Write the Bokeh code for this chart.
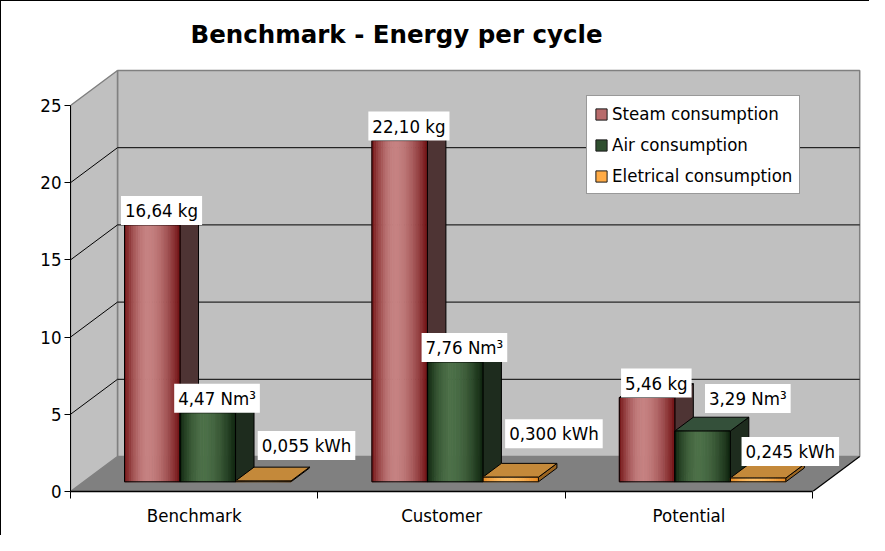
from bokeh.plotting import figure
from bokeh.models import Range1d, LinearAxis, FixedTicker, Legend, LegendItem, ColumnDataSource
from bokeh.core.properties import value
from bokeh.embed import file_html
from bokeh.resources import INLINE

# ---------------- data ----------------
title = "Benchmark - Energy per cycle"
categories = ["Benchmark", "Customer", "Potential"]
series_names = ["Steam consumption", "Air consumption", "Eletrical consumption"]
steam = [16.64, 22.10, 5.46]
air = [4.47, 7.76, 3.29]
electrical = [0.055, 0.300, 0.245]
units = ["kg", "Nm³", "kWh"]
decimals = [2, 2, 3]
y_ticks = [0, 5, 10, 15, 20, 25]

# label nudges in px (right, up) for labels moved aside, keyed (series, category)
label_nudge = {(2, 0): (34, 21), (2, 1): (34, 29), (2, 2): (23, 12), (1, 2): (36, 18)}

FONT = "DejaVu Sans Condensed, DejaVu Sans"
FS = "18.5px"

# ---------------- geometry (oblique 3D projection) ----------------
W, H = 869, 535
FRAME_L = 69
FRAME_B = 490
PX_X = 247.4
PX_Y = 15.44
x_end = (W - FRAME_L) / PX_X
y_end = FRAME_B / PX_Y
DX = 47 / PX_X
DY = 35 / PX_Y
F0 = 0.277
BX0 = F0 * DX + 41 / PX_X
BW = 55.5 / PX_X
BDX = 18.5 / PX_X
BDY = 13.8 / PX_Y
BASE = F0 * DY
NCAT = len(categories)
VMAX = y_ticks[-1]

p = figure(width=W, height=H, output_backend="svg", toolbar_location=None,
           x_range=Range1d(0, x_end), y_range=Range1d(0, y_end),
           x_axis_type=None, y_axis_type=None,
           min_border_left=FRAME_L, min_border_right=0, min_border_top=0,
           min_border_bottom=H - FRAME_B)
p.outline_line_color = None
p.background_fill_color = "white"
p.border_fill_color = "white"
p.styles = {"border-left": "1px solid #000000", "border-top": "1px solid #000000"}

# walls and floor
p.patch([DX, NCAT + DX, NCAT + DX, DX], [DY, DY, VMAX + DY, VMAX + DY],
        fill_color="#c0c0c0", line_color="#808080", line_width=1.5)
p.patch([0, DX, DX, 0], [0, DY, VMAX + DY, VMAX],
        fill_color="#c0c0c0", line_color="#808080", line_width=1.5)
p.patch([0, NCAT, NCAT + DX, DX], [0, 0, DY, DY],
        fill_color="#808080", line_color=None)
p.line([NCAT, NCAT + DX], [0, DY], line_color="#000000", line_width=1.2)

gx, gy = [], []
for v in y_ticks[1:-1]:
    gx.append([0, DX, NCAT + DX]); gy.append([v, v + DY, v + DY])
p.multi_line(gx, gy, line_color="#000000", line_width=1)

# ---------------- bars ----------------
def mix(a, b, s):
    return "#%02x%02x%02x" % tuple(int(round(a[i] + (b[i] - a[i]) * s)) for i in range(3))

def profile(t, peak=0.42):
    d = (peak - t) / peak if t < peak else (t - peak) / (1 - peak)
    return max(0.0, 1 - d ** 1.8)

styles = [
    dict(dark=(112, 16, 18), light=(198, 130, 130), side="#4e3434", top="#9a5050", leg="#b86b6b"),
    dict(dark=(14, 36, 14), light=(76, 112, 72), side="#1e2c1e", top="#34503a", leg="#2f4f2f"),
    dict(dark=(235, 140, 35), light=(255, 190, 100), side="#9a6420", top="#c4893a", leg="#ffab45"),
]
values = [steam, air, electrical]

sides = dict(xs=[], ys=[], c=[])
tops = dict(xs=[], ys=[], c=[])
strips = dict(left=[], right=[], bottom=[], top=[], c=[])
fronts = dict(left=[], right=[], bottom=[], top=[])
labs = dict(x=[], y=[], text=[], xo=[], yo=[])
NS = 24
for ci in range(NCAT):
    for si in range(len(values)):
        v = values[si][ci]
        st = styles[si]
        xl = ci + BX0 + si * BW
        xr = xl + BW
        yb = BASE
        yt = BASE + v
        sides["xs"].append([xr, xr + BDX, xr + BDX, xr])
        sides["ys"].append([yb, yb + BDY, yt + BDY, yt])
        sides["c"].append(st["side"])
        tops["xs"].append([xl, xr, xr + BDX, xl + BDX])
        tops["ys"].append([yt, yt, yt + BDY, yt + BDY])
        tops["c"].append(st["top"])
        for k in range(NS):
            a = xl + BW * k / NS
            b = xl + BW * (k + 1) / NS
            strips["left"].append(a); strips["right"].append(b)
            strips["bottom"].append(yb); strips["top"].append(yt)
            strips["c"].append(mix(st["dark"], st["light"], profile((k + 0.5) / NS)))
        fronts["left"].append(xl); fronts["right"].append(xr)
        fronts["bottom"].append(yb); fronts["top"].append(yt)
        nx, ny = label_nudge.get((si, ci), (0, 0))
        labs["x"].append(xl + BW / 2 + BDX / 2)
        labs["y"].append(yt)
        labs["text"].append(f"{v:.{decimals[si]}f}".replace(".", ",") + " " + units[si])
        labs["xo"].append(nx)
        labs["yo"].append(0 - ny)

p.patches("xs", "ys", source=ColumnDataSource(sides), fill_color="c", line_color="#000000", line_width=1)
p.patches("xs", "ys", source=ColumnDataSource(tops), fill_color="c", line_color="#000000", line_width=1)
p.quad(left="left", right="right", bottom="bottom", top="top", source=ColumnDataSource(strips),
       fill_color="c", line_color="c", line_width=0.8)
p.quad(left="left", right="right", bottom="bottom", top="top", source=ColumnDataSource(fronts),
       fill_color=None, line_color="#000000", line_width=1)

# data labels
p.text(x="x", y="y", text="text", source=ColumnDataSource(labs), x_offset="xo", y_offset="yo",
       anchor="bottom_center", text_font=value(FONT), text_font_size=FS, text_color="#000000",
       background_fill_color="white", padding=4)

# title
p.text(x=[(395 - FRAME_L) / PX_X], y=[(FRAME_B - 32.5) / PX_Y], text=[title],
       text_font=value("DejaVu Sans"), text_font_style="bold", text_font_size="24.5px",
       text_align="center", text_baseline="middle", text_color="#000000")

# ---------------- axes ----------------
yax = LinearAxis(ticker=FixedTicker(ticks=y_ticks, minor_ticks=[]), bounds=(0, VMAX))
yax.major_tick_out = 6
yax.major_tick_in = 0
yax.minor_tick_out = 0
yax.minor_tick_in = 0
yax.axis_line_color = "#000000"
yax.major_tick_line_color = "#000000"
yax.major_label_text_font = FONT
yax.major_label_text_font_size = FS
yax.major_label_text_color = "#000000"
yax.major_label_standoff = 3
p.add_layout(yax, "left")

xax = LinearAxis(ticker=FixedTicker(ticks=[i + 0.5 for i in range(NCAT)],
                                    minor_ticks=list(range(NCAT + 1))),
                 bounds=(0, NCAT))
xax.major_label_overrides = {i + 0.5: c for i, c in enumerate(categories)}
xax.major_tick_out = 0
xax.major_tick_in = 0
xax.minor_tick_out = 7
xax.minor_tick_in = 0
xax.axis_line_color = "#000000"
xax.axis_line_width = 1.5
xax.minor_tick_line_color = "#000000"
xax.major_label_text_font = FONT
xax.major_label_text_font_size = FS
xax.major_label_text_color = "#000000"
xax.major_label_standoff = 6
p.add_layout(xax, "below")

# ---------------- legend ----------------
items = []
for si, name in enumerate(series_names):
    r = p.quad(left=[-5], right=[-4], bottom=[-5], top=[-4],
               fill_color=styles[si]["leg"], line_color="#1a1a1a")
    items.append(LegendItem(label=name, renderers=[r]))
leg = Legend(items=items, location=(516, 297))
leg.glyph_width = 14
leg.glyph_height = 14
leg.label_height = 21
leg.spacing = 10
leg.padding = 7
leg.margin = 0
leg.label_standoff = 4
leg.label_text_font = FONT
leg.label_text_font_size = FS
leg.label_text_color = "#000000"
leg.border_line_color = "#333333"
leg.border_line_width = 1
leg.background_fill_color = "white"
leg.background_fill_alpha = 1
p.add_layout(leg, "center")

open("out.html", "w").write(file_html(p, INLINE))
